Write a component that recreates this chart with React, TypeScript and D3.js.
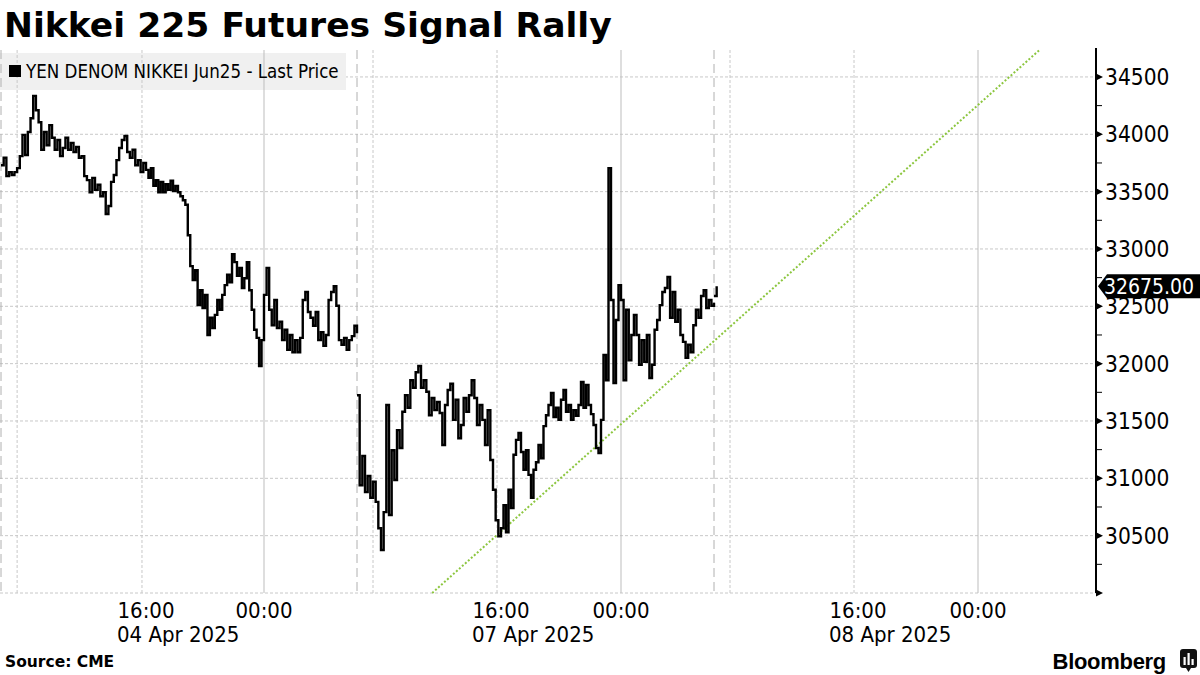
import React from "react";
import * as d3 from "d3";

const W = 1200;
const H = 675;

// Time is expressed in hours since 2025-04-04 00:00 (Tokyo). 10-minute bars.
const SEG1_START = 7; // Apr 4 07:00
const SEG2_START = 79; // Apr 7 07:00
const SEG3_START = 103; // Apr 8 07:00
const STEP_HOURS = 1 / 6;

const seg1Prices = [
  33730, 33795, 33635, 33670, 33645, 33670,
  33705, 33810, 33995, 33820, 34020, 34140,
  34335, 34210, 34105, 33865, 34020, 33905,
  34080, 33970, 33865, 33950, 33810, 33880,
  33970, 33865, 33925, 33845, 33890, 33795,
  33810, 33635, 33600, 33495, 33620, 33515,
  33560, 33460, 33495, 33305, 33375, 33585,
  33645, 33775, 33880, 33950, 33985, 33845,
  33795, 33865, 33730, 33775, 33670, 33750,
  33690, 33620, 33705, 33550, 33600, 33495,
  33585, 33495, 33565, 33515, 33595, 33505,
  33550, 33495, 33460, 33425, 33385, 33120,
  32850, 32730, 32815, 32510, 32640, 32485,
  32600, 32250, 32400, 32310, 32425, 32555,
  32470, 32600, 32685, 32775, 32710, 32955,
  32885, 32765, 32835, 32660, 32745, 32885,
  32640, 32470, 32295, 32225, 31980, 32205,
  32600, 32835, 32470, 32335, 32555, 32310,
  32365, 32205, 32295, 32120, 32250, 32100,
  32205, 32100, 32225, 32555, 32625, 32450,
  32400, 32330, 32450, 32205, 32275, 32155,
  32250, 32555, 32625, 32675, 32505, 32205,
  32165, 32225, 32120, 32205, 32240, 32330,
  32265,
];

const seg2Prices = [
  31725, 30940, 31195, 30880, 31020, 30830,
  30970, 30795, 30565, 30375, 30705, 31640,
  30680, 31245, 30985, 31420, 31265, 31580,
  31725, 31615, 31855, 31790, 31925, 31980,
  31790, 31855, 31755, 31550, 31700, 31595,
  31665, 31570, 31290, 31640, 31770, 31825,
  31510, 31685, 31350, 31465, 31700, 31580,
  31725, 31855, 31700, 31465, 31640, 31510,
  31290, 31595, 31160, 30900, 30635, 30495,
  30565, 30765, 30530, 30900, 30740, 31205,
  31335, 31395, 31230, 31075, 31245, 31030,
  30830, 31075, 31140, 31290, 31175, 31455,
  31550, 31640, 31745, 31535, 31615, 31510,
  31685, 31770, 31580, 31640, 31510, 31595,
  31545, 31640, 31840, 31615, 31815, 31640,
  31560, 31465, 31265, 31220, 31510, 32075,
  31855, 33705, 32555, 31830, 32380, 32685,
  32555, 31855, 32470, 32030, 32250, 32425,
  32250, 31990, 32205, 32015, 32250, 31875,
  31990, 32295, 32380, 32510, 32625, 32660,
  32755, 32400, 32625, 32365, 32470, 32250,
  32190, 32050, 32165, 32100, 32335, 32470,
  32400, 32590, 32640, 32485, 32555, 32505,
  32530,
];

const seg3Prices = [32590, 32675];

const lastPrice = 32675;

// Axis breaks (trading pauses collapsed): domain hours -> screen position
const xDomain = [7, 16, 24, 30, 79, 88, 96, 102, 103, 112, 120, 128];
const xRange = [1, 146, 264, 357, 357, 501, 621, 714, 714, 858, 978, 1098];

const timeTicks = [16, 24, 88, 96, 112, 120];
const timeTickLabels = ["16:00", "00:00", "16:00", "00:00", "16:00", "00:00"];
const dateTicks = [16, 88, 112];
const dateLabels = ["04 Apr 2025", "07 Apr 2025", "08 Apr 2025"];

const yTicks = [30000, 30500, 31000, 31500, 32000, 32500, 33000, 33500, 34000, 34500];
const yMinorTicks = [30250, 30750, 31250, 31750, 32250, 32750, 33250, 33750, 34250];

const midnightLines = [24, 96, 120];
const sessionLines = [8, 15.75, 80, 87.75, 104, 111.75];
const breakLines = [7, 30, 102];

const trendStart: [number, number] = [83.7, 30000];
const trendEnd: [number, number] = [124.1, 34735];

const COND = "'DejaVu Sans Condensed', 'DejaVu Sans', sans-serif";

export default function App() {
  const plotTop = 50;
  const plotBottom = 593;
  const axisX = 1096;

  const x = d3.scaleLinear().domain(xDomain).range(xRange);
  const y = d3.scaleLinear().domain([30000, 34735]).range([plotBottom, plotTop]);

  const line = d3
    .line<[number, number]>()
    .x((d) => x(d[0]))
    .y((d) => y(d[1]))
    .curve(d3.curveStepAfter);

  const toPts = (arr: number[], start: number): [number, number][] =>
    arr.map((p, i) => [start + i * STEP_HOURS, p]);

  const segs = [
    toPts(seg1Prices, SEG1_START),
    toPts(seg2Prices, SEG2_START),
    toPts(seg3Prices, SEG3_START),
  ];

  const ly = y(lastPrice);

  return (
    <svg
      width={W}
      height={H}
      style={{ position: "absolute", left: 0, top: 0, background: "#fff" }}
    >
      <rect x={0} y={0} width={W} height={H} fill="#fff" />
      {/* Title */}
      <text
        x={4}
        y={37}
        fontFamily="'DejaVu Sans', sans-serif"
        fontWeight="bold"
        fontSize={34.6}
        fill="#000"
      >
        Nikkei 225 Futures Signal Rally
      </text>

      {/* horizontal grid */}
      {yTicks.map((v) => (
        <line
          key={"hg" + v}
          x1={0}
          x2={axisX}
          y1={y(v)}
          y2={y(v)}
          stroke="#c8c8c8"
          strokeWidth={1}
          strokeDasharray="3 2"
        />
      ))}

      {/* legend box */}
      <rect x={0} y={53} width={346} height={37} fill="#f0f0f0" />

      {/* vertical grid */}
      {sessionLines.map((t) => (
        <line
          key={"sl" + t}
          x1={x(t)}
          x2={x(t)}
          y1={plotTop}
          y2={plotBottom}
          stroke="#c8c8c8"
          strokeDasharray="3 2"
        />
      ))}
      {midnightLines.map((t) => (
        <line
          key={"ml" + t}
          x1={x(t)}
          x2={x(t)}
          y1={plotTop}
          y2={plotBottom}
          stroke="#bdbdbd"
        />
      ))}
      {breakLines.map((t) => (
        <line
          key={"bl" + t}
          x1={x(t)}
          x2={x(t)}
          y1={plotTop}
          y2={plotBottom}
          stroke="#b0b0b0"
          strokeDasharray="9 5"
        />
      ))}

      {/* legend content */}
      <rect x={9} y={65} width={12} height={12} fill="#000" />
      <text x={26} y={78} fontFamily={COND} fontSize={18.6} fill="#000">
        YEN DENOM NIKKEI Jun25 - Last Price
      </text>

      {/* trend line */}
      <line
        x1={x(trendStart[0])}
        y1={y(trendStart[1])}
        x2={x(trendEnd[0])}
        y2={y(trendEnd[1])}
        stroke="#8cc63f"
        strokeWidth={2}
        strokeDasharray="2 2"
      />

      {/* price series */}
      {segs.map((s, i) => (
        <path
          key={"seg" + i}
          d={line(s) || ""}
          fill="none"
          stroke="#000"
          strokeWidth={2.4}
          strokeLinejoin="miter"
        />
      ))}

      {/* y axis */}
      <line x1={axisX} x2={axisX} y1={plotTop - 2} y2={plotBottom} stroke="#000" strokeWidth={2} />
      {yMinorTicks.map((v) => (
        <line key={"mt" + v} x1={axisX} x2={axisX + 6} y1={y(v)} y2={y(v)} stroke="#000" strokeWidth={1} />
      ))}
      {yTicks.map((v) => (
        <path
          key={"tk" + v}
          d={`M${axisX},${y(v) - 3.5}L${axisX + 7},${y(v)}L${axisX},${y(v) + 3.5}Z`}
          fill="#000"
        />
      ))}
      {yTicks
        .filter((v) => v > 30000)
        .map((v) => (
          <text
            key={"yl" + v}
            x={axisX + 9}
            y={y(v) + 8}
            fontFamily={COND}
            fontSize={22.5}
            fill="#000"
          >
            {v}
          </text>
        ))}

      {/* last price tag */}
      <path
        d={`M${axisX + 2},${ly}L${axisX + 11},${ly - 12}L${W},${ly - 12}L${W},${ly + 12}L${axisX + 11},${ly + 12}Z`}
        fill="#000"
      />
      <text x={axisX + 8} y={ly + 8} fontFamily={COND} fontSize={21} fill="#fff">
        {lastPrice.toFixed(2)}
      </text>

      {/* x axis labels */}
      {timeTicks.map((t, i) => (
        <text
          key={"xt" + i}
          x={x(t)}
          y={618}
          textAnchor="middle"
          fontFamily={COND}
          fontSize={22}
          fill="#000"
        >
          {timeTickLabels[i]}
        </text>
      ))}
      {dateTicks.map((t, i) => (
        <text
          key={"xd" + i}
          x={x(t) - 29}
          y={642}
          textAnchor="start"
          fontFamily={COND}
          fontSize={22}
          fill="#000"
        >
          {dateLabels[i]}
        </text>
      ))}

      {/* footer */}
      <text
        x={5}
        y={667}
        fontFamily="'DejaVu Sans', sans-serif"
        fontWeight="bold"
        fontSize={15.5}
        fill="#000"
      >
        Source: CME
      </text>
      <text
        x={1166}
        y={669}
        textAnchor="end"
        fontFamily="'Liberation Sans', Arial, sans-serif"
        fontWeight="bold"
        fontSize={22}
        fill="#000"
        letterSpacing={-0.3}
      >
        Bloomberg
      </text>
      <g>
        <rect x={1180} y={649} width={17} height={19} rx={3} fill="#111" />
        <path d="M1186,668L1188.5,672L1191,668Z" fill="#111" />
        <rect x={1183.5} y={657} width={2.2} height={8} fill="#fff" />
        <rect x={1187.5} y={653} width={2.2} height={12} fill="#fff" />
        <rect x={1191.5} y={659} width={2.2} height={6} fill="#fff" />
      </g>
    </svg>
  );
}
